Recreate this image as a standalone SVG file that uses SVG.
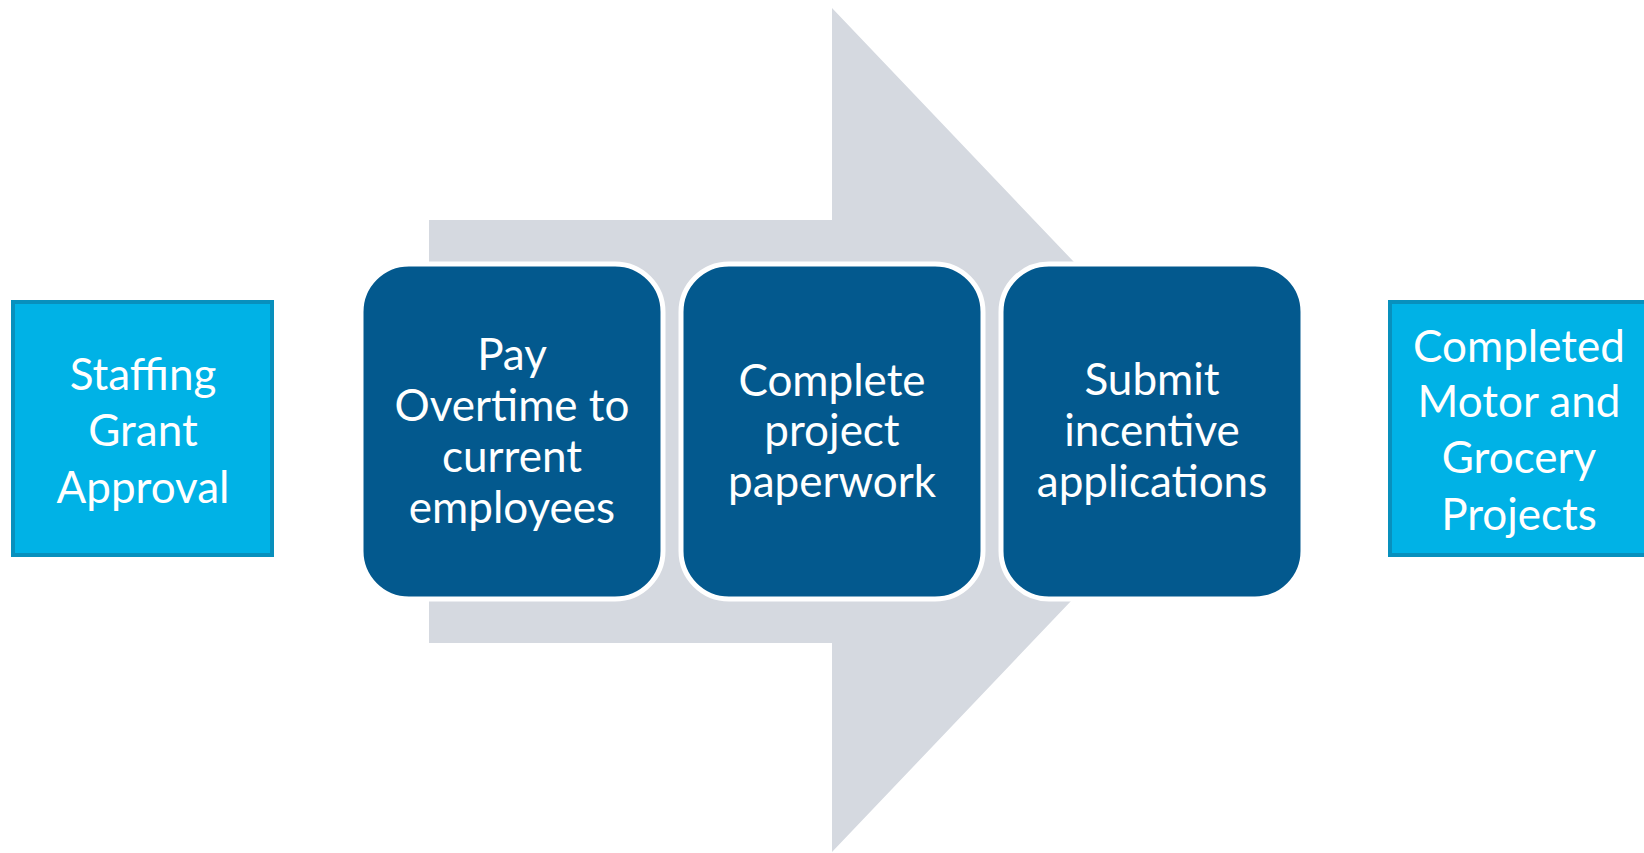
<svg xmlns="http://www.w3.org/2000/svg" width="1644" height="853" viewBox="0 0 1644 853">
<style>
.lb{fill:#00b2e6;stroke:#0890bd;stroke-width:4}
.db{fill:#03598e;stroke:#ffffff;stroke-width:5}
.t{font-family:Lato,"Open Sans",sans-serif;font-size:44px;fill:#ffffff;text-anchor:middle}
</style>
<rect width="1644" height="853" fill="#ffffff"/>
<g id="connectors">
<polygon points="429,220 832,220 832,8 1234,430 832,852 832,643 429,643" fill="#d5d9e0"/>
</g>
<g id="staffing">
<rect class="lb" x="13" y="302" width="259" height="253"/>
<text class="t" x="143" y="390">Staffing</text>
<text class="t" x="143" y="446">Grant</text>
<text class="t" x="143" y="503">Approval</text>
</g>
<g id="pay">
<rect class="db" x="361" y="264" width="302" height="335" rx="48"/>
<text class="t" x="512" y="370">Pay</text>
<text class="t" x="512" y="421">Overtime to</text>
<text class="t" x="512" y="472">current</text>
<text class="t" x="512" y="523">employees</text>
</g>
<g id="complete">
<rect class="db" x="681" y="264" width="302" height="335" rx="48"/>
<text class="t" x="832" y="396">Complete</text>
<text class="t" x="832" y="446">project</text>
<text class="t" x="832" y="497">paperwork</text>
</g>
<g id="submit">
<rect class="db" x="1001" y="264" width="302" height="335" rx="48"/>
<text class="t" x="1152" y="395">Submit</text>
<text class="t" x="1152" y="446">incentive</text>
<text class="t" x="1152" y="497">applications</text>
</g>
<g id="completed">
<rect class="lb" x="1390" y="302" width="262" height="253"/>
<text class="t" x="1519" y="362">Completed</text>
<text class="t" x="1519" y="417">Motor and</text>
<text class="t" x="1519" y="473">Grocery</text>
<text class="t" x="1519" y="530">Projects</text>
</g>
</svg>
